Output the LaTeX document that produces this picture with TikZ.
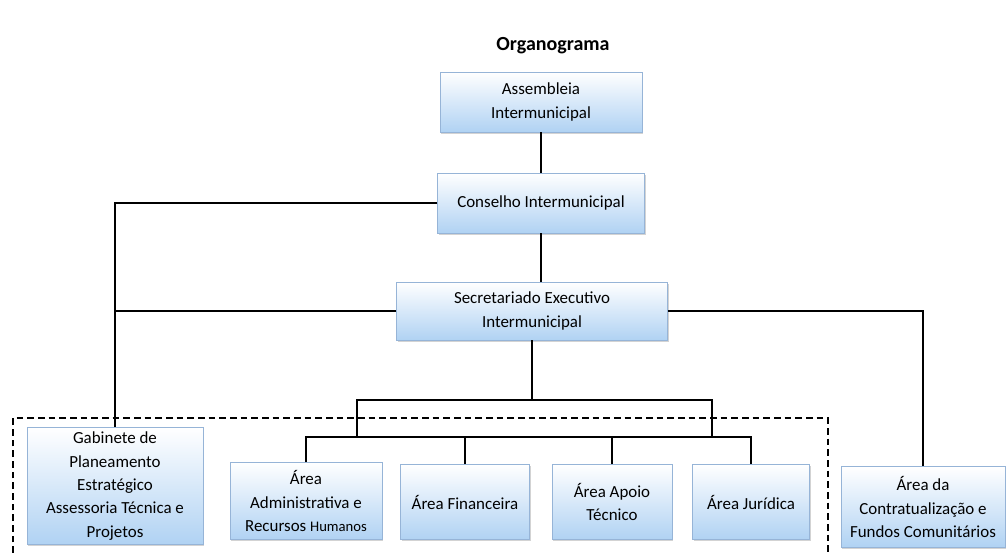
\documentclass[tikz,border=0pt]{standalone}
\usepackage{fontspec}
\setmainfont{Carlito}
\usetikzlibrary{shadows}

\definecolor{boxblue}{RGB}{176,210,243}
\definecolor{boxedge}{RGB}{150,180,215}

\tikzset{
  orgbox/.style={draw=boxedge, line width=0.6pt, top color=white, bottom color=boxblue,
    align=center, inner sep=2pt, font=\fontsize{12.7}{17.5}\selectfont,
    drop shadow={opacity=0.35, shadow xshift=0.8pt, shadow yshift=-1.2pt}},
  boxsize/.style 2 args={minimum width=#1*0.75pt, minimum height=#2*0.75pt},
  orgline/.style={line width=2pt}
}

\begin{document}
\begin{tikzpicture}[x=0.75pt,y=-0.75pt]

  \useasboundingbox (0,0) rectangle (1008,553);

  \node[font=\fontsize{15}{18}\selectfont\bfseries] (title) at (553,46) {Organograma};

  \node[orgbox, boxsize={202}{60}] (asm) at (541,102) {Assembleia\\Intermunicipal};
  \node[orgbox, boxsize={207}{60}] (cons) at (541,203) {Conselho Intermunicipal};
  \node[orgbox, boxsize={271}{58}] (sec) at (532,311) {Secretariado Executivo\\Intermunicipal};

  \node[orgbox, boxsize={176}{117}] (gab) at (115,486)
     {Gabinete de\\Planeamento\\Estratégico\\Assessoria Técnica e\\Projetos};
  \node[orgbox, boxsize={152}{77}] (adm) at (306,501)
     {Área\\Administrativa e\\Recursos {\fontsize{11}{17.5}\selectfont Humanos}};
  \node[orgbox, boxsize={129}{75}] (fin) at (465,502) {Área Financeira};
  \node[orgbox, boxsize={120}{75}] (apo) at (612,502) {Área Apoio\\Técnico};
  \node[orgbox, boxsize={117}{75}] (jur) at (751,502) {Área Jurídica};
  \node[orgbox, boxsize={164}{81}] (ctr) at (923,507)
     {Área da\\Contratualização e\\Fundos Comunitários};

  % linhas
  \draw[orgline] (asm) -- (cons);
  \draw[orgline] (cons) -- (sec.north -| cons);
  \draw[orgline] (cons.west) -| (gab.north);
  \draw[orgline] (sec.west) -- (sec.west -| gab.north);
  \draw[orgline] (sec.east) -| (ctr.north);

  \coordinate (bl) at (357,400);
  \coordinate (br) at (712,400);
  \coordinate (cl) at (357,437);
  \coordinate (cr) at (712,437);

  \draw[orgline] (sec.south) -- (sec.south |- bl);
  \draw[orgline] (cl) -- (bl) -- (br) -- (cr);
  \draw[orgline] (adm.north) -- (adm.north |- cl) -- (jur.north |- cl) -- (jur.north);
  \draw[orgline] (fin.north) -- (fin.north |- cl);
  \draw[orgline] (apo.north) -- (apo.north |- cl);

  % grupo tracejado
  \coordinate (dl) at (13,553);
  \coordinate (dr) at (828,418);
  \draw[line width=1.6pt, dash pattern=on 5pt off 3pt] (dl) |- (dr) -- (dr |- dl);

\end{tikzpicture}
\end{document}
